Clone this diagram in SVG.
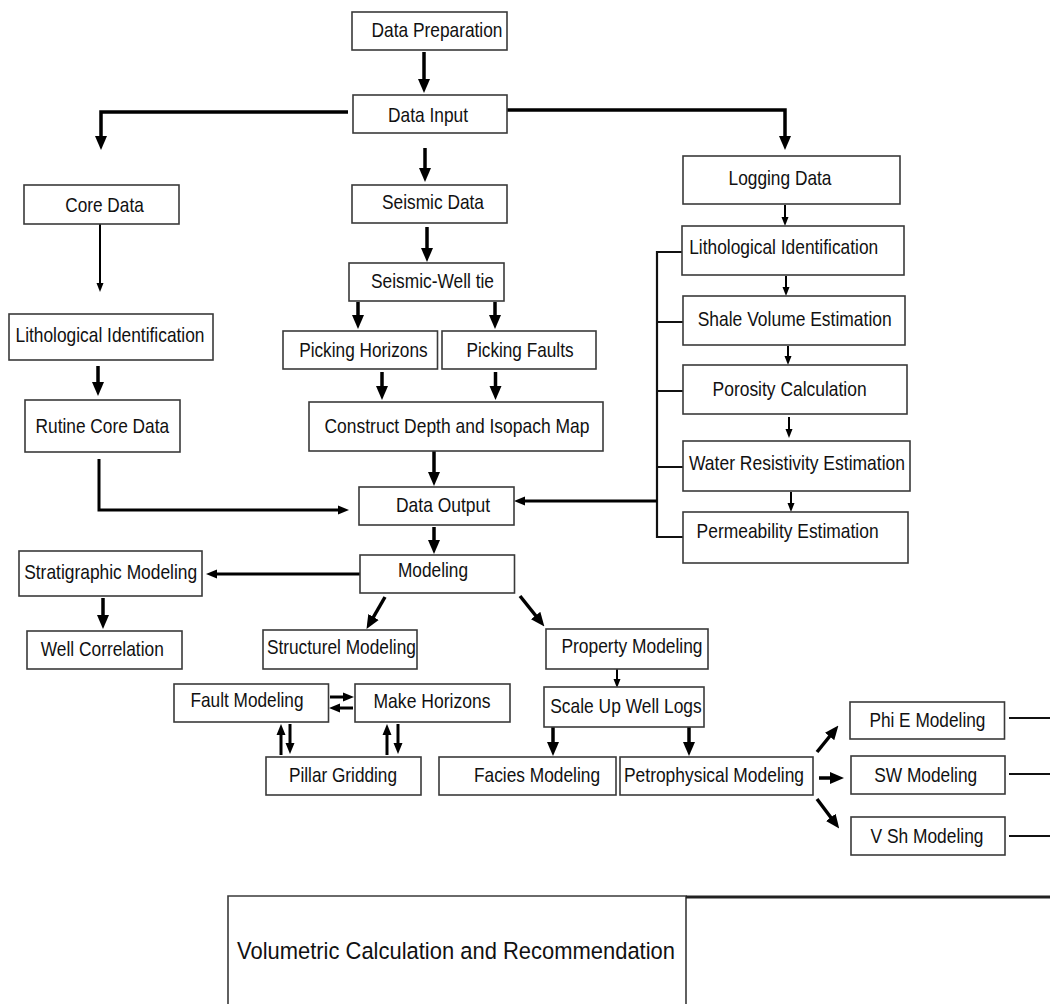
<svg xmlns="http://www.w3.org/2000/svg" width="1050" height="1004" viewBox="0 0 1050 1004">
<style>
.box{fill:#fff;stroke:#3a3a3a;stroke-width:1.6}
text{font-family:"Liberation Sans",Arial,sans-serif;font-size:21px;fill:#111;text-anchor:middle}
.big{font-size:24.5px}
.thick{fill:none;stroke:#000;stroke-width:3.5;marker-end:url(#hb)}
.thickn{fill:none;stroke:#000;stroke-width:3.5}
.mid{fill:none;stroke:#000;stroke-width:3;marker-end:url(#hm)}
.thin{fill:none;stroke:#000;stroke-width:2;marker-end:url(#hs)}
.line{fill:none;stroke:#111;stroke-width:2.2}
</style>
<defs>
<marker id="hb" markerUnits="userSpaceOnUse" markerWidth="14" markerHeight="14" viewBox="0 0 14 14" refX="7" refY="7" orient="auto"><path d="M0,1 L14,7 L0,13 z" fill="#000"/></marker>
<marker id="hm" markerUnits="userSpaceOnUse" markerWidth="11" markerHeight="10" viewBox="0 0 11 10" refX="5" refY="5" orient="auto"><path d="M0,0.5 L11,5 L0,9.5 z" fill="#000"/></marker>
<marker id="hs" markerUnits="userSpaceOnUse" markerWidth="9" markerHeight="8" viewBox="0 0 9 8" refX="4" refY="4" orient="auto"><path d="M0,0.5 L9,4 L0,7.5 z" fill="#000"/></marker>
</defs>
<rect width="1050" height="1004" fill="#fff"/>

<g id="connectors">
<path class="thick" d="M424,52 V86"/>
<path class="thick" d="M348,112 H101 V143"/>
<path class="thick" d="M507,110 H785 V143"/>
<path class="thick" d="M425,148 V175"/>
<path class="thick" d="M427,227 V255"/>
<path class="thin" d="M100,224 V287"/>
<path class="thick" d="M98,366 V389"/>
<path class="mid" d="M99,459 V510 H343"/>
<path class="thick" d="M358,302 V322"/>
<path class="thick" d="M495,302 V322"/>
<path class="thick" d="M382,372 V393"/>
<path class="thick" d="M495.5,372 V393"/>
<path class="thick" d="M434,451 V479"/>
<path class="thick" d="M434,527 V547"/>
<path class="thin" d="M785,205 V221"/>
<path class="thin" d="M786,276 V291"/>
<path class="thin" d="M788,346 V360"/>
<path class="thin" d="M789,417 V433"/>
<path class="thin" d="M791,492 V507"/>
<path class="line" d="M683,252 H657 V537 H683 M657,322 H683 M657,391 H683 M657,467 H683"/>
<path class="mid" d="M657,501 H520"/>
<path class="mid" d="M360,574 H212"/>
<path class="thick" d="M103,598 V622"/>
<path class="thick" d="M385,597 L370,623"/>
<path class="thick" d="M520,596 L540,621"/>
<path class="mid" d="M330,697 H348"/>
<path class="mid" d="M353,708 H335"/>
<path class="mid" d="M281,755 V730"/>
<path class="mid" d="M290,724 V748"/>
<path class="mid" d="M387,755 V730"/>
<path class="mid" d="M398,724 V748"/>
<path class="thin" d="M617,669 V683"/>
<path class="thick" d="M553,727 V749"/>
<path class="thick" d="M689,727 V749"/>
<path class="thick" d="M817,752 L834,731"/>
<path class="thick" d="M819,778 H837"/>
<path class="thick" d="M817,799 L835,823"/>
<path class="line" d="M1009,718 H1050 M1009,774 H1050 M1009,836 H1050"/>
</g>

<g id="n-data-preparation"><rect class="box" x="352" y="12" width="155" height="38"/><text x="437" y="37" textLength="131" lengthAdjust="spacingAndGlyphs">Data Preparation</text></g>
<g id="n-data-input"><rect class="box" x="353" y="95" width="154" height="38"/><text x="428" y="122" textLength="80" lengthAdjust="spacingAndGlyphs">Data Input</text></g>
<g id="n-core-data"><rect class="box" x="24" y="185" width="155" height="39"/><text x="104.5" y="212" textLength="78.5" lengthAdjust="spacingAndGlyphs">Core Data</text></g>
<g id="n-seismic-data"><rect class="box" x="352" y="185" width="155" height="38"/><text x="433" y="209" textLength="102" lengthAdjust="spacingAndGlyphs">Seismic Data</text></g>
<g id="n-seismic-well-tie"><rect class="box" x="349" y="263" width="155" height="38"/><text x="432.5" y="288" textLength="123" lengthAdjust="spacingAndGlyphs">Seismic-Well tie</text></g>
<g id="n-logging-data"><rect class="box" x="683" y="156" width="217" height="48"/><text x="780" y="185" textLength="103" lengthAdjust="spacingAndGlyphs">Logging Data</text></g>
<g id="n-lith-id-right"><rect class="box" x="682" y="226" width="222" height="49"/><text x="783.7" y="254" textLength="189" lengthAdjust="spacingAndGlyphs">Lithological Identification</text></g>
<g id="n-shale-volume"><rect class="box" x="683" y="296" width="222" height="49"/><text x="794.7" y="326" textLength="194" lengthAdjust="spacingAndGlyphs">Shale Volume Estimation</text></g>
<g id="n-porosity"><rect class="box" x="683" y="365" width="224" height="49"/><text x="789.6" y="396" textLength="154" lengthAdjust="spacingAndGlyphs">Porosity Calculation</text></g>
<g id="n-water-resistivity"><rect class="box" x="683" y="441" width="227" height="50"/><text x="797" y="470" textLength="216" lengthAdjust="spacingAndGlyphs">Water Resistivity Estimation</text></g>
<g id="n-permeability"><rect class="box" x="683" y="512" width="225" height="51"/><text x="787.6" y="538" textLength="182" lengthAdjust="spacingAndGlyphs">Permeability Estimation</text></g>
<g id="n-lith-id-left"><rect class="box" x="9" y="314" width="204" height="46"/><text x="110" y="342" textLength="189" lengthAdjust="spacingAndGlyphs">Lithological Identification</text></g>
<g id="n-rutine-core"><rect class="box" x="25" y="400" width="155" height="52"/><text x="102.3" y="433" textLength="133.5" lengthAdjust="spacingAndGlyphs">Rutine Core Data</text></g>
<g id="n-picking-horizons"><rect class="box" x="283" y="331" width="154.5" height="38"/><text x="363.4" y="357" textLength="128.5" lengthAdjust="spacingAndGlyphs">Picking Horizons</text></g>
<g id="n-picking-faults"><rect class="box" x="442" y="331" width="154" height="38"/><text x="520" y="357" textLength="107" lengthAdjust="spacingAndGlyphs">Picking Faults</text></g>
<g id="n-construct"><rect class="box" x="309" y="402" width="294" height="49"/><text x="457" y="433" textLength="265" lengthAdjust="spacingAndGlyphs">Construct Depth and Isopach Map</text></g>
<g id="n-data-output"><rect class="box" x="359" y="487" width="155" height="38"/><text x="443" y="512" textLength="94" lengthAdjust="spacingAndGlyphs">Data Output</text></g>
<g id="n-modeling"><rect class="box" x="360" y="555" width="154.5" height="38"/><text x="433" y="577" textLength="70" lengthAdjust="spacingAndGlyphs">Modeling</text></g>
<g id="n-stratigraphic"><rect class="box" x="19" y="551" width="183" height="45"/><text x="110.7" y="579" textLength="173" lengthAdjust="spacingAndGlyphs">Stratigraphic Modeling</text></g>
<g id="n-well-correlation"><rect class="box" x="27" y="631" width="155" height="38"/><text x="102.3" y="656" textLength="123" lengthAdjust="spacingAndGlyphs">Well Correlation</text></g>
<g id="n-structurel"><rect class="box" x="263" y="630" width="154" height="39"/><text x="341.4" y="654" textLength="149" lengthAdjust="spacingAndGlyphs">Structurel Modeling</text></g>
<g id="n-fault-modeling"><rect class="box" x="174" y="684" width="154.5" height="38"/><text x="247" y="707" textLength="113" lengthAdjust="spacingAndGlyphs">Fault Modeling</text></g>
<g id="n-make-horizons"><rect class="box" x="355" y="684" width="155" height="38"/><text x="432" y="708" textLength="117" lengthAdjust="spacingAndGlyphs">Make Horizons</text></g>
<g id="n-pillar-gridding"><rect class="box" x="266" y="757" width="155" height="38"/><text x="343" y="782" textLength="108" lengthAdjust="spacingAndGlyphs">Pillar Gridding</text></g>
<g id="n-facies"><rect class="box" x="439" y="757" width="177" height="38"/><text x="537" y="782" textLength="126" lengthAdjust="spacingAndGlyphs">Facies Modeling</text></g>
<g id="n-petrophysical"><rect class="box" x="620" y="757" width="193" height="38"/><text x="714" y="782" textLength="180" lengthAdjust="spacingAndGlyphs">Petrophysical Modeling</text></g>
<g id="n-property"><rect class="box" x="546" y="629" width="162" height="40"/><text x="632" y="653" textLength="141" lengthAdjust="spacingAndGlyphs">Property Modeling</text></g>
<g id="n-scale-up"><rect class="box" x="544" y="687" width="160" height="40"/><text x="626" y="713" textLength="151.5" lengthAdjust="spacingAndGlyphs">Scale Up Well Logs</text></g>
<g id="n-phi-e"><rect class="box" x="850" y="702" width="154.5" height="37"/><text x="927.4" y="727" textLength="116" lengthAdjust="spacingAndGlyphs">Phi E Modeling</text></g>
<g id="n-sw"><rect class="box" x="851" y="756" width="154" height="38"/><text x="925.7" y="782" textLength="103" lengthAdjust="spacingAndGlyphs">SW Modeling</text></g>
<g id="n-vsh"><rect class="box" x="851" y="817" width="154" height="38"/><text x="927" y="843" textLength="113" lengthAdjust="spacingAndGlyphs">V Sh Modeling</text></g>
<g id="n-volumetric">
<path d="M228,1010 V896 H686 V1010" fill="#fff" stroke="#3a3a3a" stroke-width="1.6"/>
<path d="M686,897 H1050" fill="none" stroke="#222" stroke-width="3"/>
<text class="big" x="456" y="959" textLength="438" lengthAdjust="spacingAndGlyphs">Volumetric Calculation and Recommendation</text>
</g>
</svg>
